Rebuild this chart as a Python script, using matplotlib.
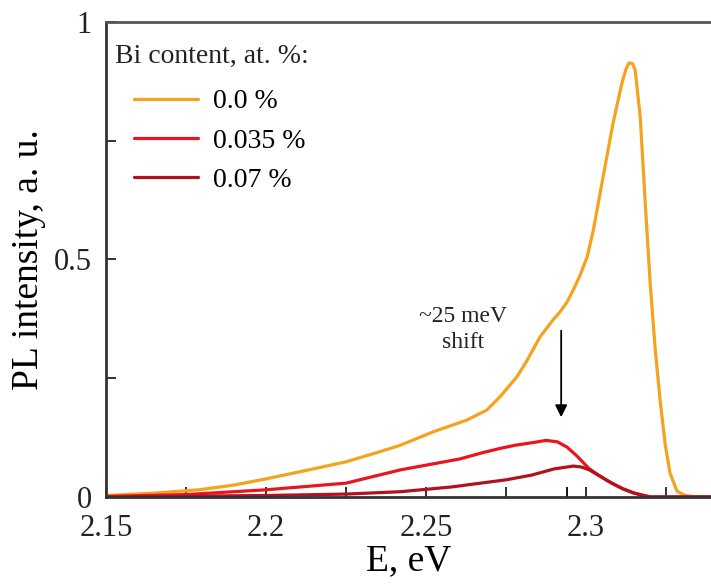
import numpy as np
import matplotlib
matplotlib.use("Agg")
import matplotlib.pyplot as plt

plt.rcParams['font.family'] = ['Liberation Serif', 'DejaVu Serif']

# --- data ---
# 0.0 % Bi
e_00 = [2.15, 2.165, 2.179, 2.19, 2.2, 2.212, 2.225, 2.235, 2.242, 2.2522, 2.2628, 2.269,
        2.2731, 2.2784, 2.2816, 2.2856, 2.2897, 2.2919, 2.294, 2.296, 2.298, 2.3003, 2.3022,
        2.3053, 2.3084, 2.3112, 2.3125, 2.3134, 2.3145, 2.3153, 2.3169, 2.3184, 2.320,
        2.3216, 2.3231, 2.3247, 2.3262, 2.3284, 2.331, 2.334, 2.339]
i_00 = [0.003, 0.008, 0.015, 0.025, 0.038, 0.055, 0.074, 0.094, 0.109, 0.137, 0.162, 0.183,
        0.211, 0.253, 0.288, 0.337, 0.373, 0.390, 0.410, 0.436, 0.465, 0.505, 0.56,
        0.674, 0.787, 0.872, 0.902, 0.914, 0.912, 0.899, 0.80, 0.625, 0.45,
        0.309, 0.204, 0.11, 0.05, 0.012, 0.003, 0.0, 0.0]
# 0.035 % Bi
e_035 = [2.15, 2.175, 2.2, 2.225, 2.242, 2.2606, 2.267, 2.273, 2.278, 2.283, 2.2875, 2.291,
         2.294, 2.297, 2.301, 2.3045, 2.308, 2.3115, 2.315, 2.318, 2.320, 2.339]
i_035 = [0.001, 0.005, 0.015, 0.029, 0.057, 0.080, 0.092, 0.102, 0.109, 0.114, 0.119, 0.116,
         0.105, 0.087, 0.059, 0.043, 0.029, 0.017, 0.008, 0.003, 0.0, 0.0]
# 0.07 % Bi
e_07 = [2.15, 2.2, 2.225, 2.242, 2.258, 2.267, 2.275, 2.283, 2.290, 2.296, 2.2985, 2.301,
        2.3045, 2.308, 2.3115, 2.315, 2.318, 2.320, 2.339]
i_07 = [0.0, 0.003, 0.006, 0.011, 0.021, 0.029, 0.036, 0.046, 0.059, 0.065, 0.063, 0.057,
        0.043, 0.029, 0.017, 0.008, 0.003, 0.0, 0.0]

rotulos = ["0.0 %", "0.035 %", "0.07 %"]
cores = ["#f5a21d", "#e8161e", "#b2121f"]

fig = plt.figure(figsize=(7.11, 5.86), dpi=100)
ax = fig.add_axes([0.149, 0.152, 0.851, 0.8105])

series = [(e_00, i_00), (e_035, i_035), (e_07, i_07)]
for (ex, iy), lab, cor in zip(series, rotulos, cores):
    ax.plot(ex, iy, color=cor, lw=2.3, label=lab, solid_capstyle='round',
            solid_joinstyle='round')

ax.set_xlim(2.15, 2.339)
ax.set_ylim(0, 1)

ax.set_xticks([2.15, 2.175, 2.2, 2.225, 2.25, 2.275, 2.3, 2.325])
ax.set_xticklabels(["2.15", "", "2.2", "", "2.25", "", "2.3", ""])
ax.set_xticks([2.294], minor=True)
ax.set_yticks([0, 0.25, 0.5, 0.75, 1])
ax.set_yticklabels(["0", "", "0.5", "", "1"])
ax.tick_params(direction='in', length=7, width=1.3, labelsize=22, colors='#222222')
ax.tick_params(axis='x', which='minor', direction='in', length=7, width=1.3)
ax.tick_params(axis='x', pad=12)
ax.tick_params(axis='y', pad=10)

for s in ['left', 'bottom', 'top']:
    ax.spines[s].set_linewidth(2)
    ax.spines[s].set_color('#333333')
ax.spines['top'].set_color('#555555')
ax.spines['right'].set_visible(False)

ax.set_xlabel("E, eV", fontsize=27, labelpad=1)
ax.set_ylabel("PL intensity, a. u.", fontsize=27, labelpad=6)

# legenda
ax.text(0.015, 0.928, "Bi content, at. %:", transform=ax.transAxes, fontsize=20,
        va='center', ha='left', color='#222222')
leg = ax.legend(loc='upper left', bbox_to_anchor=(0.046, 0.859), frameon=False,
                fontsize=20, handlelength=2.3, handletextpad=0.55, labelspacing=0.5,
                borderpad=0, borderaxespad=0)

# seta do deslocamento
ax.annotate("", xy=(2.2922, 0.162), xytext=(2.2922, 0.356),
            arrowprops=dict(arrowstyle='-|>', color='black', lw=1.3, mutation_scale=18))
ax.text(2.2616, 0.352, "~25 meV\nshift", fontsize=17, ha='center', va='center',
        linespacing=1.3, color='#222222')

plt.savefig("out.png", dpi=100)
